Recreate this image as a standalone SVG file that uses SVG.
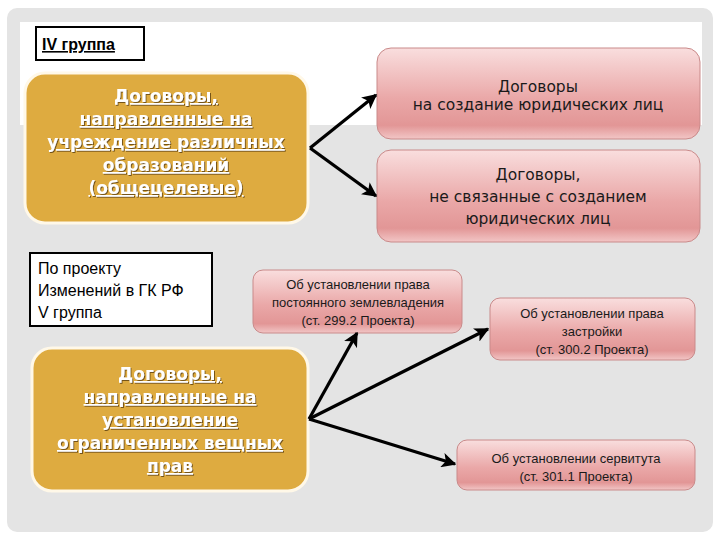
<svg xmlns="http://www.w3.org/2000/svg" width="720" height="540" viewBox="0 0 720 540">
<defs>
<linearGradient id="pink" x1="0" y1="0" x2="0" y2="1">
<stop offset="0" stop-color="#f9dede"/>
<stop offset="0.55" stop-color="#eaa8a8"/>
<stop offset="0.85" stop-color="#e29696"/>
<stop offset="1" stop-color="#f2c6c6"/>
</linearGradient>
<filter id="sh" x="-10%" y="-20%" width="120%" height="150%">
<feDropShadow dx="1" dy="1" stdDeviation="0.6" flood-color="#5a4010" flood-opacity="0.8"/>
</filter>
<marker id="ah" viewBox="0 0 10 10" refX="9" refY="5" markerWidth="4.6" markerHeight="4.6" orient="auto" markerUnits="strokeWidth">
<path d="M0,0 L10,5 L0,10 L2.5,5 Z" fill="#000"/>
</marker>
<style>
.gold{fill:#deab40;stroke:#fff8e8;stroke-width:3}
.gt{font-family:"DejaVu Sans",sans-serif;font-weight:bold;font-size:17px;fill:#fff;text-anchor:middle;text-decoration:underline;filter:url(#sh)}
.pk{fill:url(#pink);stroke:#c98a8a;stroke-width:1}
.pt{font-family:"DejaVu Sans",sans-serif;font-size:15.5px;fill:#1a1a1a;text-anchor:middle}
.st{font-family:"Liberation Sans",Arial,sans-serif;font-size:13px;fill:#1a1a1a;text-anchor:middle}
.bx{fill:#fff;stroke:#000;stroke-width:2}
.ct{stroke:#000;stroke-width:3.2;fill:none;marker-end:url(#ah)}
</style>
</defs>
<rect x="0" y="0" width="720" height="540" fill="#ffffff"/>
<rect x="7" y="8" width="706" height="524" rx="10" fill="#e4e4e4"/>
<rect x="20" y="22" width="682" height="103" fill="#ffffff"/>

<g id="iv">
<rect x="36" y="27" width="108" height="33" class="bx"/>
<text x="42" y="50" font-family="Liberation Sans, Arial, sans-serif" font-size="16" font-weight="bold" text-decoration="underline">IV группа</text>
</g>

<g id="gold1">
<rect x="25" y="73" width="283" height="150" rx="20" class="gold"/>
<text class="gt"><tspan x="166" y="102">Договоры,</tspan><tspan x="166" y="125">направленные на</tspan><tspan x="166" y="148">учреждение различных</tspan><tspan x="166" y="171">образований</tspan><tspan x="166" y="194">(общецелевые)</tspan></text>
</g>

<g id="p1">
<rect x="377" y="48" width="323" height="91" rx="14" class="pk"/>
<text class="pt"><tspan x="538" y="92">Договоры</tspan><tspan x="538" y="110">на создание юридических лиц</tspan></text>
</g>

<g id="p2">
<rect x="377" y="150" width="323" height="92" rx="14" class="pk"/>
<text class="pt"><tspan x="538" y="180">Договоры,</tspan><tspan x="538" y="202">не связанные с созданием</tspan><tspan x="538" y="224">юридических лиц</tspan></text>
</g>

<g id="v">
<rect x="30" y="253" width="182" height="73" class="bx"/>
<text font-family="Liberation Sans, Arial, sans-serif" font-size="16" fill="#000"><tspan x="38" y="274">По проекту</tspan><tspan x="38" y="296">Изменений в ГК РФ</tspan><tspan x="38" y="318">V группа</tspan></text>
</g>

<g id="gold2">
<rect x="32" y="348" width="276" height="143" rx="20" class="gold"/>
<text class="gt"><tspan x="170" y="380">Договоры,</tspan><tspan x="170" y="403">направленные на</tspan><tspan x="170" y="426">установление</tspan><tspan x="170" y="449">ограниченных вещных</tspan><tspan x="170" y="472">прав</tspan></text>
</g>

<g id="a">
<rect x="253" y="270" width="209" height="63" rx="10" class="pk"/>
<text class="st"><tspan x="358" y="289">Об установлении права</tspan><tspan x="358" y="307">постоянного землевладения</tspan><tspan x="358" y="325">(ст. 299.2 Проекта)</tspan></text>
</g>

<g id="b">
<rect x="490" y="298" width="205" height="62" rx="10" class="pk"/>
<text class="st"><tspan x="592" y="318">Об установлении права</tspan><tspan x="592" y="336">застройки</tspan><tspan x="592" y="354">(ст. 300.2 Проекта)</tspan></text>
</g>

<g id="c">
<rect x="457" y="440" width="238" height="50" rx="10" class="pk"/>
<text class="st"><tspan x="576" y="463">Об установлении сервитута</tspan><tspan x="576" y="481">(ст. 301.1 Проекта)</tspan></text>
</g>

<g id="connectors">
<line x1="310" y1="148" x2="376" y2="95" class="ct"/>
<line x1="310" y1="148" x2="376" y2="196" class="ct"/>
<line x1="309" y1="419" x2="357" y2="333" class="ct"/>
<line x1="309" y1="419" x2="488" y2="329" class="ct"/>
<line x1="309" y1="419" x2="455" y2="464" class="ct"/>
</g>
</svg>
